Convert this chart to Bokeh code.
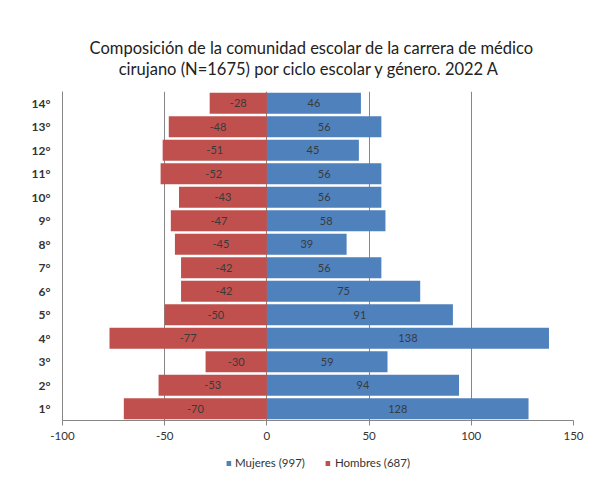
from bokeh.plotting import figure
from bokeh.layouts import column
from bokeh.models import (ColumnDataSource, FixedTicker, Legend, LegendItem)
from bokeh.core.properties import value
from bokeh.embed import file_html
from bokeh.resources import INLINE

ciclos = ["1°", "2°", "3°", "4°", "5°", "6°", "7°", "8°", "9°", "10°", "11°", "12°", "13°", "14°"]
hombres = [-70, -53, -30, -77, -50, -42, -42, -45, -47, -43, -52, -51, -48, -28]
mujeres = [128, 94, 59, 138, 91, 75, 56, 39, 58, 56, 56, 45, 56, 46]
x_ticks = [-100, -50, 0, 50, 100, 150]
title_lines = ["Composición de la comunidad escolar de la carrera de médico",
               "cirujano (N=1675) por ciclo escolar y  género. 2022 A"]
legend_labels = ["Mujeres (997)", "Hombres (687)"]

RED = "#C0504D"
BLUE = "#4F81BD"
FONT = "Lato"
W = 586
BL, BR = 62, 13   # borders shared by all strips (frames are aligned in the column)

# ---------- title strip ----------
tf = figure(width=W, height=91, output_backend="svg", toolbar_location=None,
            x_range=(BL, W - BR), y_range=(91, 0), x_axis_type=None, y_axis_type=None,
            min_border=0, min_border_left=BL, min_border_right=BR, min_border_top=0,
            min_border_bottom=0, title_location=None)
tf.outline_line_color = None
tf.xgrid.grid_line_color = None
tf.ygrid.grid_line_color = None
tsrc = ColumnDataSource(dict(x=[311, 311], y=[47, 68], t=title_lines))
tf.text(x="x", y="y", text="t", source=tsrc, text_align="center", text_baseline="middle",
        text_font=value(FONT), text_font_size="16.5px", text_color="#222222")

# ---------- chart ----------
pos = list(range(1, len(ciclos) + 1))
src = ColumnDataSource(dict(
    y=pos,
    h=hombres,
    m=mujeres,
    hc=[v / 2 for v in hombres],
    mc=[v / 2 for v in mujeres],
    hl=[str(v) for v in hombres],
    ml=[str(v) for v in mujeres],
))

p = figure(width=W, height=359, output_backend="svg", toolbar_location=None,
           x_range=(-100, 150), y_range=(0.5, 14.5), title_location=None,
           min_border_left=BL, min_border_right=BR, min_border_top=0, min_border_bottom=30)
p.background_fill_color = "white"
p.border_fill_color = "white"
p.outline_line_color = None

rh = p.hbar(y="y", left=0, right="h", height=0.9, source=src, fill_color=RED, line_color=None)
rm = p.hbar(y="y", left=0, right="m", height=0.9, source=src, fill_color=BLUE, line_color=None)

p.text(x="hc", y="y", text="hl", source=src, text_align="center", text_baseline="middle",
       text_font=value(FONT), text_font_size="11px", text_color="#3A3A3A")
p.text(x="mc", y="y", text="ml", source=src, text_align="center", text_baseline="middle",
       text_font=value(FONT), text_font_size="11px", text_color="#3A3A3A")

p.xaxis.ticker = FixedTicker(ticks=x_ticks)
p.xaxis.major_label_overrides = {t: str(t) for t in x_ticks}
p.xaxis.major_label_text_font = FONT
p.xaxis.major_label_text_font_size = "11.5px"
p.xaxis.major_label_text_color = "#333333"
p.xaxis.axis_line_color = "#868686"
p.xaxis.major_tick_line_color = "#868686"
p.xaxis.major_tick_in = 0
p.xaxis.major_tick_out = 5
p.xaxis.minor_tick_line_color = None
p.xaxis.major_label_standoff = 6

p.yaxis.ticker = FixedTicker(ticks=pos)
p.yaxis.major_label_overrides = {i: c for i, c in zip(pos, ciclos)}
p.yaxis.major_label_text_font = FONT
p.yaxis.major_label_text_font_size = "12px"
p.yaxis.major_label_text_font_style = "bold"
p.yaxis.major_label_text_color = "#333333"
p.yaxis.axis_line_color = "#868686"
p.yaxis.major_tick_line_color = None
p.yaxis.minor_tick_line_color = None
p.yaxis.major_label_standoff = 6

p.xgrid.ticker = FixedTicker(ticks=x_ticks)
p.xgrid.grid_line_color = "#868686"
p.ygrid.grid_line_color = None

# ---------- legend strip ----------
lg = figure(width=W, height=25, output_backend="svg", toolbar_location=None,
            x_range=(0, 1), y_range=(0, 1), x_axis_type=None, y_axis_type=None,
            min_border=0, min_border_left=BL, min_border_right=BR, min_border_top=0,
            min_border_bottom=0, title_location=None)
lg.outline_line_color = None
lg.xgrid.grid_line_color = None
lg.ygrid.grid_line_color = None
dm = lg.hbar(y=[-5], left=[0], right=[1], height=1, fill_color=BLUE, line_color=None)
dh = lg.hbar(y=[-5], left=[0], right=[1], height=1, fill_color=RED, line_color=None)
legend = Legend(items=[LegendItem(label=legend_labels[0], renderers=[dm]),
                       LegendItem(label=legend_labels[1], renderers=[dh])],
                orientation="horizontal", location="center",
                label_text_font=FONT, label_text_font_size="11.5px", label_text_color="#333333",
                glyph_width=6, glyph_height=6, label_height=14, spacing=20, label_standoff=4,
                border_line_color=None, background_fill_alpha=0, padding=2, margin=0)
lg.add_layout(legend)

layout = column(tf, p, lg, spacing=0)
open("out.html", "w").write(file_html(layout, INLINE))
